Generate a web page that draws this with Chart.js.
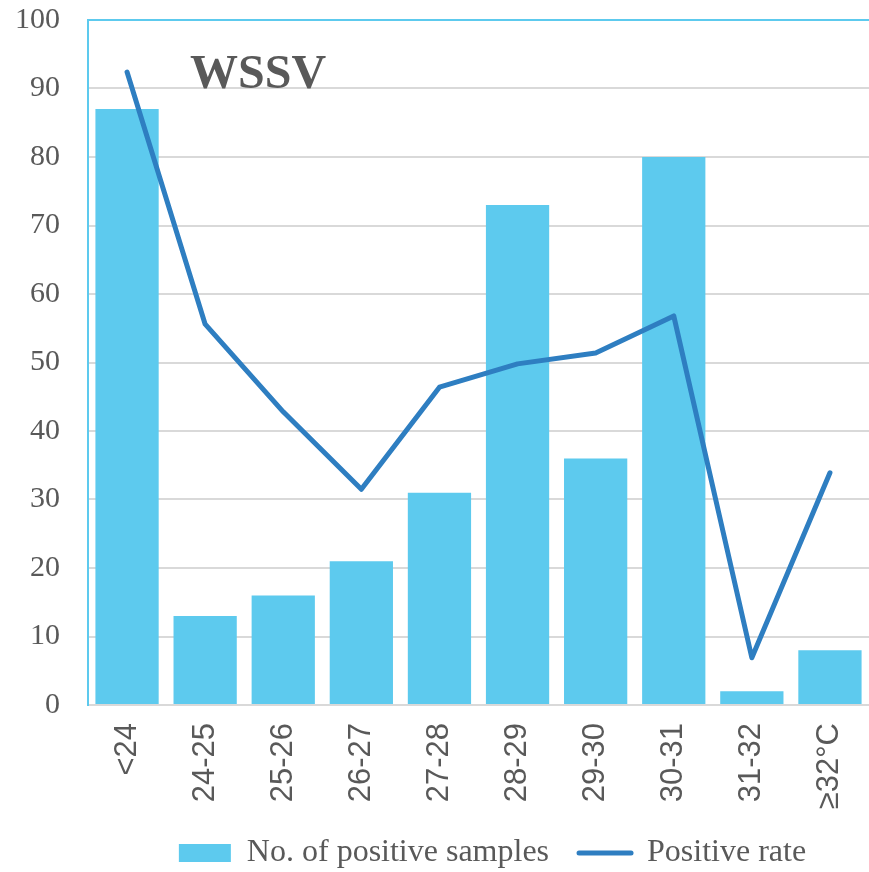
<!DOCTYPE html>
<html>
<head>
<meta charset="utf-8">
<script src="https://cdn.jsdelivr.net/npm/chart.js@4/dist/chart.umd.min.js"></script>
<style>
  body { margin: 0; background: #fff; }
  #wrap { width: 869px; height: 872px; position: relative; }
</style>
</head>
<body>
<div id="wrap"><canvas id="wssvChart"></canvas></div>
<script>
const categories = ['<24', '24-25', '25-26', '26-27', '27-28', '28-29', '29-30', '30-31', '31-32', '≥32°C'];
const positiveSamples = [87, 13, 16, 21, 31, 73, 36, 80, 2, 8];
const positiveRate = [92.4, 55.6, 42.8, 31.5, 46.4, 49.8, 51.4, 56.8, 6.9, 33.9];
const yTicks = [0, 10, 20, 30, 40, 50, 60, 70, 80, 90, 100];

const barColor = '#5DCAEE';
const lineColor = '#2E7EC1';
const textColor = '#595959';

// top border of plot area + the WSSV label, legend nudged into place
const plotDecor = {
    id: 'plotDecor',
    afterLayout(chart) {
        const lg = chart.legend;
        if (lg) {
            lg.left += 58;
            lg.right += 58;
            lg.top -= 10;
            lg.bottom -= 10;
        }
    },
    afterDatasetsDraw(chart) {
        const area = chart.chartArea;
        const c = chart.ctx;
        c.save();
        c.strokeStyle = barColor;
        c.lineWidth = 2;
        c.beginPath();
        c.moveTo(area.left - 1, area.top);
        c.lineTo(area.right, area.top);
        c.stroke();
        c.fillStyle = textColor;
        c.font = 'bold 48px "Liberation Serif", "Times New Roman", serif';
        c.textBaseline = 'alphabetic';
        c.textAlign = 'left';
        c.fillText('WSSV', area.left + 102, area.top + 68);
        c.restore();
    }
};

const ctx = document.getElementById('wssvChart').getContext('2d');
new Chart(ctx, {
    data: {
        labels: categories,
        datasets: [{
            type: 'bar',
            label: 'No. of positive samples',
            data: positiveSamples,
            backgroundColor: barColor,
            borderWidth: 0,
            barPercentage: 0.81,
            categoryPercentage: 1.0,
            order: 1
        }, {
            type: 'line',
            label: 'Positive rate',
            data: positiveRate,
            borderColor: lineColor,
            backgroundColor: lineColor,
            borderWidth: 5,
            borderCapStyle: 'round',
            borderJoinStyle: 'round',
            pointRadius: 0,
            tension: 0,
            order: 0
        }]
    },
    options: {
        responsive: true,
        maintainAspectRatio: false,
        animation: false,
        layout: { padding: { top: 20, right: 0, left: 0, bottom: -17 } },
        scales: {
            x: {
                grid: { display: false, drawTicks: false },
                border: { color: '#D9D9D9', width: 2 },
                ticks: {
                    color: textColor,
                    font: { family: '"Liberation Sans", Arial, sans-serif', size: 31 },
                    minRotation: 90,
                    maxRotation: 90,
                    padding: 18
                },
                afterFit(scale) {
                    scale.height = 112;
                    scale.paddingLeft = 0;
                    scale.paddingRight = 0;
                }
            },
            y: {
                min: 0,
                max: 100,
                afterBuildTicks(scale) { scale.ticks = yTicks.map(v => ({ value: v })); },
                grid: { color: '#D9D9D9', lineWidth: 2, drawTicks: false },
                border: { color: barColor, width: 2 },
                ticks: {
                    color: textColor,
                    font: { family: '"Liberation Serif", "Times New Roman", serif', size: 30 },
                    padding: 28
                },
                afterFit(scale) {
                    scale.width = 88;
                    scale.paddingTop = 0;
                    scale.paddingBottom = 0;
                }
            }
        },
        plugins: {
            tooltip: { enabled: false },
            legend: {
                position: 'bottom',
                labels: {
                    color: textColor,
                    font: { family: '"Liberation Serif", "Times New Roman", serif', size: 32 },
                    usePointStyle: true,
                    pointStyleWidth: 52,
                    boxHeight: 18,
                    padding: 30,
                    sort: (a, b) => a.datasetIndex - b.datasetIndex,
                    generateLabels(chart) {
                        const items = Chart.defaults.plugins.legend.labels.generateLabels(chart);
                        items.forEach(item => {
                            if (item.datasetIndex === 0) {
                                item.pointStyle = 'rect';
                                item.lineWidth = 0;
                                item.fillStyle = barColor;
                            } else {
                                item.pointStyle = 'line';
                                item.lineWidth = 5;
                                item.lineCap = 'round';
                                item.strokeStyle = lineColor;
                            }
                        });
                        return items;
                    }
                }
            }
        }
    },
    plugins: [plotDecor]
});
</script>
</body>
</html>
